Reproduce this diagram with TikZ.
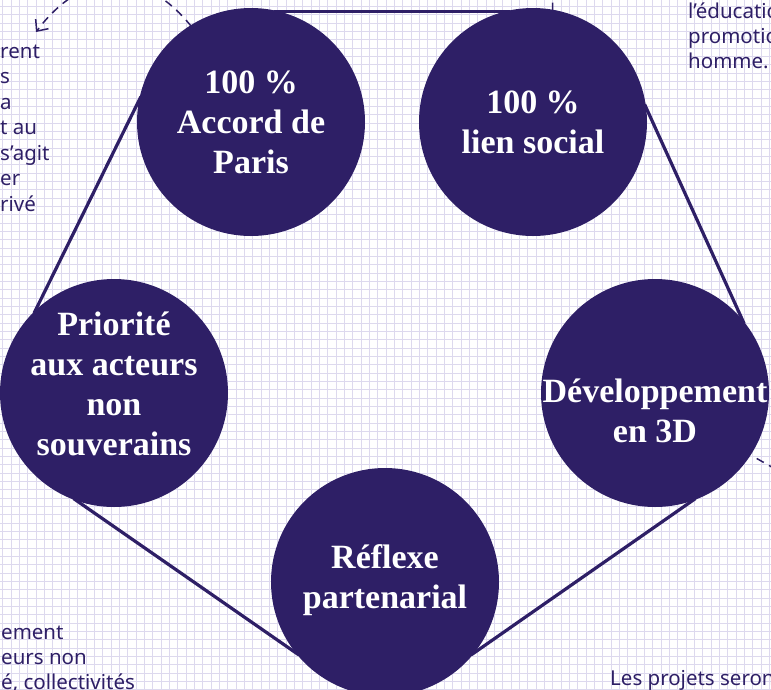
\documentclass[tikz,border=0pt]{standalone}
\usepackage{fontspec}
\setmainfont{Liberation Serif}
\newfontfamily\notefont{Noto Sans}
\usetikzlibrary{arrows.meta, backgrounds, calc}
\definecolor{ink}{HTML}{2E1F66}
\definecolor{paper}{HTML}{DDD9EE}
\tikzset{
    pole/.style={circle,fill=ink,minimum size=228pt,inner sep=0pt,outer sep=-1pt},
    ptxt/.style={text=white,align=center,inner sep=0pt,font=\fontsize{34}{40}\selectfont\bfseries},
    note/.style={text=ink,anchor=base west,inner sep=0pt,font=\notefont\fontsize{20.5}{25.4}\selectfont},
    link/.style={draw=ink,line width=3.2pt},
    hint/.style={draw=ink,line width=1.5pt,dash pattern=on 8pt off 6pt},
    gridline/.style={draw=paper,line width=0.9pt},
}

\begin{document}
\begin{tikzpicture}[x=1pt,y=-1pt]
\useasboundingbox (0,0) rectangle (771,689);
\clip (0,0) rectangle (771,689);
% the five poles
\node[pole, label={[ptxt]center:{100 \%\\Accord de\\Paris}}] (A) at (251,122) {};
\node[pole, label={[ptxt]center:{100 \%\\lien social}}] (B) at (533,122) {};
\node[pole, label={[ptxt,yshift=-18pt]center:{Développement\\en 3D}}] (C) at (655,393) {};
\node[pole, label={[ptxt,yshift=2pt]center:{Réflexe\\partenarial}}] (D) at (385,582) {};
\node[pole, label={[ptxt,yshift=9pt]center:{Priorité\\aux acteurs\\non\\souverains}}] (E) at (114,393) {};
% cut-off side texts
\node[note] (l1) at (0,58) {rent};
\node[note] (l2) at (0,83.5) {s};
\node[note] (l3) at (0,109) {a};
\node[note] (l4) at (0,134.5) {t au};
\node[note] (l5) at (0,160) {s’agit};
\node[note] (l6) at (0,185.5) {er};
\node[note] (l7) at (0,211) {rivé};
\node[note] (r1) at (688,18) {l’éducatio};
\node[note] (r2) at (688,43) {promotio};
\node[note] (r3) at (688,68) {homme.};
\node[note] (b1) at (1,639) {ement};
\node[note] (b2) at (1,664) {eurs non};
\node[note] (b3) at (1,689) {é, collectivités};
\node[note] (b4) at (610,685) {Les projets seron};
\coordinate (toleft) at (36,32);
\coordinate (upward) at (553,-40);
\coordinate (outright) at (800,483);
\scoped[on background layer]{
    \fill[white] (0,0) rectangle (771,689);
    \foreach \i in {0,...,92}
        \draw[gridline] ({2.7+8.333*\i},0) -- ({2.7+8.333*\i},689);
    \foreach \j in {0,...,82}
        \draw[gridline] (0,{6.3+8.333*\j}) -- (771,{6.3+8.333*\j});
    \path
        (A.78) edge[link] (B.102)
        (B.9.5) edge[link] (C.38.4)
        (C.-69.9) edge[link] (D.-40.8)
        (D.220.8) edge[link] (E.249)
        (E.135.7) edge[link] (A.167.8)
    ;
    \draw[hint, -{Straight Barb[length=9pt,width=16pt]}] (A.122) .. controls (141,-36) and (81,-28) .. (toleft);
    \draw[hint] (B.80) -- (upward);
    \draw[hint, shorten <=8pt] (C.-33) -- (outright);
}
\end{tikzpicture}
\end{document}
